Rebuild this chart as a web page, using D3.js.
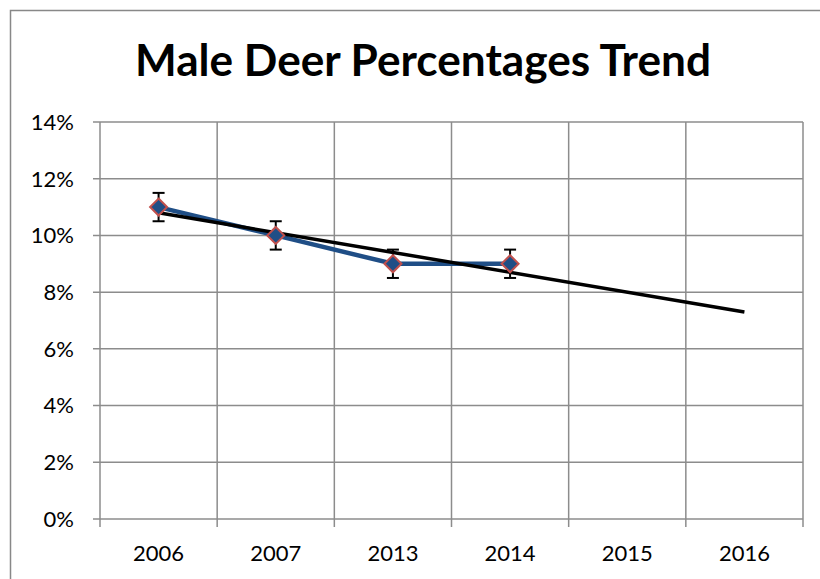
<!DOCTYPE html>
<html><head><meta charset="utf-8">
<script src="https://cdn.jsdelivr.net/npm/d3@7"></script>
<style>body{margin:0;background:#fff}svg{display:block}</style>
</head><body>
<svg id="c" width="820" height="579"></svg>
<script>
const categories = ["2006","2007","2013","2014","2015","2016"];
const values = [0.11, 0.10, 0.09, 0.09];
const errorAmount = 0.005;
const yTicks = [0,0.02,0.04,0.06,0.08,0.10,0.12,0.14];
const title = "Male Deer Percentages Trend";

const svg = d3.select("#c");
const L=100, R=803, T=122, B=519;
const x = d3.scaleBand().domain(categories).range([L,R]);
const y = d3.scaleLinear().domain([0,0.14]).range([B,T]);
const cx = c => x(c)+x.bandwidth()/2;
const grid="#8c8c8c";
const font="Lato, sans-serif";

svg.append("rect").attr("x",10.5).attr("y",10.5).attr("width",830).attr("height",600)
  .attr("fill","#fff").attr("stroke","#888").attr("stroke-width",1.5);

svg.append("text").attr("x",423).attr("y",76).attr("text-anchor","middle")
  .attr("font-family",font).attr("font-weight","bold").attr("font-size",44)
  .attr("textLength",576).attr("lengthAdjust","spacingAndGlyphs")
  .text(title);

// horizontal gridlines
svg.append("g").selectAll("line").data(yTicks).join("line")
  .attr("x1",L-7).attr("x2",R).attr("y1",d=>y(d)).attr("y2",d=>y(d))
  .attr("stroke",grid).attr("stroke-width",1.5);
// vertical gridlines
const edges = categories.map(c=>x(c)).concat([R]);
svg.append("g").selectAll("line").data(edges).join("line")
  .attr("x1",d=>d).attr("x2",d=>d).attr("y1",T).attr("y2",B+8)
  .attr("stroke",grid).attr("stroke-width",1.5);

svg.append("g").selectAll("text").data(yTicks).join("text")
  .attr("x",74).attr("y",d=>y(d)).attr("dy","0.36em").attr("text-anchor","end")
  .attr("font-family",font).attr("font-size",22)
  .text(d3.format(".0%"));
svg.append("g").selectAll("text").data(categories).join("text")
  .attr("x",cx).attr("y",561).attr("text-anchor","middle")
  .attr("font-family",font).attr("font-size",22)
  .text(d=>d);

const pts = values.map((v,i)=>({c:categories[i],v}));
// series line
svg.append("path").datum(pts)
  .attr("d",d3.line().x(d=>cx(d.c)).y(d=>y(d.v)))
  .attr("fill","none").attr("stroke","#1f4e86").attr("stroke-width",4.5);

// trend line (linear regression over points)
const xs=pts.map((d,i)=>i+1);
const mx=d3.mean(xs), my=d3.mean(values);
const slope=d3.sum(xs.map((xx,i)=>(xx-mx)*(values[i]-my)))/d3.sum(xs.map(xx=>(xx-mx)**2));
const tv = k => my + slope*(k-mx);
svg.append("line")
  .attr("x1",cx(categories[0])).attr("y1",y(tv(1)))
  .attr("x2",cx(categories[categories.length-1])).attr("y2",y(tv(categories.length)))
  .attr("stroke","#000").attr("stroke-width",3.5);

// error bars
const eb=svg.append("g").attr("stroke","#000").attr("stroke-width",2);
pts.forEach(d=>{
  const px=cx(d.c), y1=y(d.v+errorAmount), y2=y(d.v-errorAmount);
  eb.append("line").attr("x1",px).attr("x2",px).attr("y1",y1).attr("y2",y2);
  eb.append("line").attr("x1",px-6).attr("x2",px+6).attr("y1",y1).attr("y2",y1);
  eb.append("line").attr("x1",px-6).attr("x2",px+6).attr("y1",y2).attr("y2",y2);
});
// markers
svg.append("g").selectAll("path").data(pts).join("path")
  .attr("transform",d=>`translate(${cx(d.c)},${y(d.v)})`)
  .attr("d","M0,-8.5L8.5,0L0,8.5L-8.5,0Z")
  .attr("fill","#1f4e86").attr("stroke","#c0504d").attr("stroke-width",2);
</script>
</body></html>
